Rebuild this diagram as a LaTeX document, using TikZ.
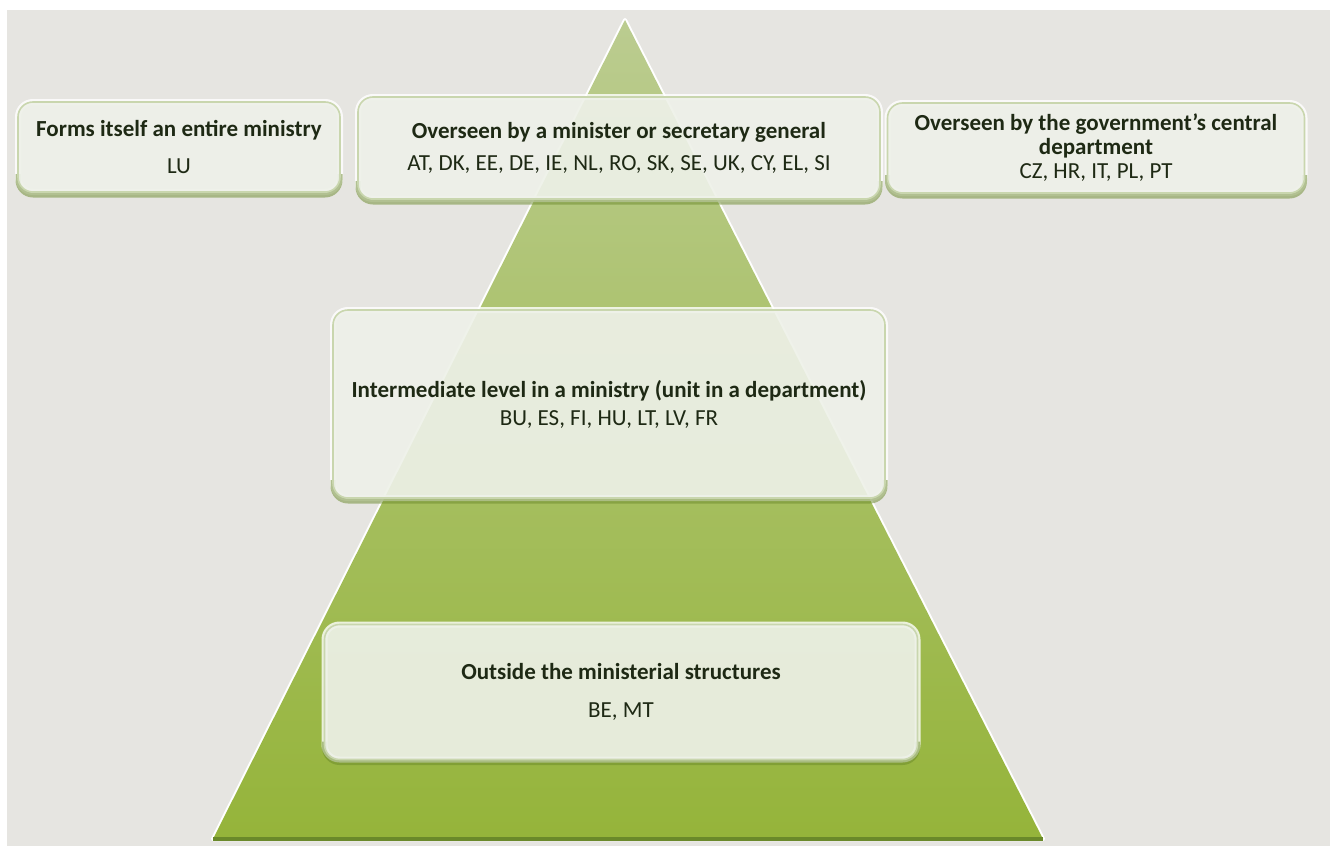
\documentclass[tikz,border=0pt]{standalone}
\usepackage{fontspec}
\setmainfont{Carlito}
\definecolor{bggray}{HTML}{E6E5E1}
\definecolor{pyrtop}{HTML}{BBCC90}
\definecolor{pyrbot}{HTML}{95B43A}
\definecolor{pyredge}{HTML}{6A892A}
\definecolor{boxfill}{HTML}{EEF1E9}
\definecolor{boxline}{HTML}{C9D6AE}
\definecolor{boxtext}{HTML}{1E2914}
\tikzset{
  levelbox/.style={draw=boxline, line width=0.8pt, fill=boxfill, fill opacity=0.91,
    text opacity=1, rounded corners=7.5pt, inner sep=0pt, outer sep=0pt,
    align=center, text=boxtext, font=\fontsize{11.5}{12}\selectfont},
  boxglow/.style={white, line width=3pt, rounded corners=7.5pt, opacity=0.8},
  boxshadow/.style={pyredge, line width=2.5pt, rounded corners=7.5pt, opacity=0.5},
}
% one box: name, centre x, centre y, width, height (pixels), text
\newcommand{\placebox}[6]{%
  \draw[boxglow] ({#2-#4/2},{#3-#5/2}) rectangle ({#2+#4/2},{#3+#5/2});
  \draw[boxshadow] ({#2-#4/2},{#3+#5/2-18}) |- ({#2},{#3+#5/2+3}) -| ({#2+#4/2},{#3+#5/2-18});
  \node[levelbox, minimum width=#4*0.5pt, minimum height=#5*0.5pt] (#1) at (#2,#3) {#6};}

\begin{document}
\begin{tikzpicture}[x=0.5pt,y=-0.5pt]
    \useasboundingbox (0,0) rectangle (1335,846);
    \fill[white] (0,0) rectangle (1335,846);
    \fill[bggray] (7,10) rectangle (1330,846);
    % pyramid
    \coordinate (apex) at (625,20);
    \coordinate (baseleft) at (213,839);
    \coordinate (baseright) at (1043,839);
    \draw[white, line width=2pt, line join=round] (apex) -- (baseleft) -- (baseright) -- cycle;
    \shade[top color=pyrtop, bottom color=pyrbot] (apex) -- (baseleft) -- (baseright) -- cycle;
    \draw[pyredge, line width=2pt] (baseleft) -- (baseright);
    % levels
    \placebox{lu}{179}{147}{322}{90}{\textbf{Forms itself an entire ministry}\\[6.5pt] LU}
    \placebox{minister}{619}{148}{522}{102}{\textbf{Overseen by a minister or secretary general}\\[4pt] AT, DK, EE, DE, IE, NL, RO, SK, SE, UK, CY, EL, SI}
    \placebox{central}{1096}{148}{417}{90}{\textbf{Overseen by the government’s central}\\ \textbf{department}\\ CZ, HR, IT, PL, PT}
    \placebox{intermediate}{609}{404}{552}{188}{\textbf{Intermediate level in a ministry (unit in a department)}\\[2pt] BU, ES, FI, HU, LT, LV, FR}
    \placebox{outside}{621}{692}{593}{135}{\textbf{Outside the ministerial structures}\\[7pt] BE, MT}
\end{tikzpicture}
\end{document}
